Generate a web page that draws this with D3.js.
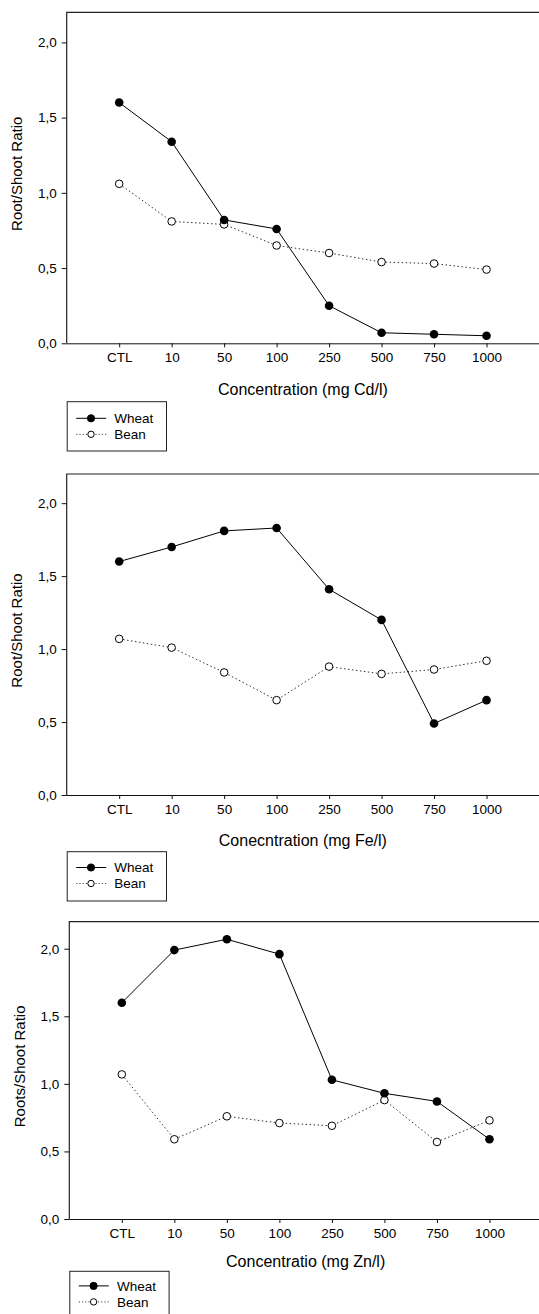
<!DOCTYPE html>
<html>
<head>
<meta charset="utf-8">
<script src="https://cdn.jsdelivr.net/npm/d3@7"></script>
<style>
  body { margin: 0; background: #fff; }
  svg text { font-family: 'Liberation Sans', Arial, sans-serif; fill: #000; }
</style>
</head>
<body>
<div class="canvas"></div>
<script>
const categories = ['CTL', '10', '50', '100', '250', '500', '750', '1000']
const yTicks = [0, 0.5, 1.0, 1.5, 2.0]

const wheatCd = [1.60, 1.34, 0.82, 0.76, 0.25, 0.07, 0.06, 0.05]
const beanCd = [1.06, 0.81, 0.79, 0.65, 0.60, 0.54, 0.53, 0.49]

const wheatFe = [1.60, 1.70, 1.81, 1.83, 1.41, 1.20, 0.49, 0.65]
const beanFe = [1.07, 1.01, 0.84, 0.65, 0.88, 0.83, 0.86, 0.92]

const wheatZn = [1.60, 1.99, 2.07, 1.96, 1.03, 0.93, 0.87, 0.59]
const beanZn = [1.07, 0.59, 0.76, 0.71, 0.69, 0.88, 0.57, 0.73]

const seriesNames = ['Wheat', 'Bean']

const panels = [
    { wheat: wheatCd, bean: beanCd, yTitle: 'Root/Shoot Ratio', xTitle: 'Concentration (mg Cd/l)',
      left: 66.7, right: 539, top: 12.3, bottom: 343.3, titleGap: 52, legendGap: 58.4, legendRow: 16.6 },
    { wheat: wheatFe, bean: beanFe, yTitle: 'Root/Shoot Ratio', xTitle: 'Conecntration (mg Fe/l)',
      left: 66.7, right: 539, top: 474, bottom: 795, titleGap: 51, legendGap: 56.7, legendRow: 15.8 },
    { wheat: wheatZn, bean: beanZn, yTitle: 'Roots/Shoot Ratio', xTitle: 'Concentratio (mg Zn/l)',
      left: 69.3, right: 542, top: 921.7, bottom: 1219, titleGap: 47.5, legendGap: 52.3, legendRow: 14.6 }
]

const svg = d3.select('.canvas').append('svg').attr('width', 539).attr('height', 1314)

const fmt = d => d3.format('.1f')(d).replace('.', ',')

panels.forEach(p => {
    const x = d3.scalePoint()
        .domain(categories)
        .range([p.left, p.right])
        .padding(1)

    const y = d3.scaleLinear()
        .domain([0, 2.2])
        .range([p.bottom, p.top])

    const g = svg.append('g')

    // frame (right side runs off the picture)
    g.append('path')
        .attr('d', `M${p.left},${p.bottom}V${p.top}H${p.right + 5}`)
        .attr('fill', 'none')
        .attr('stroke', '#222')
        .attr('stroke-width', 1.2)

    const xAxis = d3.axisBottom(x).tickSizeInner(4).tickSizeOuter(0).tickPadding(5)
    const yAxis = d3.axisLeft(y).tickValues(yTicks).tickFormat(fmt).tickSizeInner(5).tickSizeOuter(0).tickPadding(5)

    const xAxisGroup = g.append('g').attr('transform', `translate(0, ${p.bottom})`).call(xAxis)
    const yAxisGroup = g.append('g').attr('transform', `translate(${p.left}, 0)`).call(yAxis)

    xAxisGroup.select('.domain').attr('d', `M${p.left},0.5H${p.right + 5}`).attr('stroke', '#111')
    yAxisGroup.select('.domain').remove()
    xAxisGroup.selectAll('text').attr('font-size', 13.5).attr('font-family', null)
    yAxisGroup.selectAll('text').attr('font-size', 13.5).attr('font-family', null)
    g.selectAll('.tick line').attr('stroke', '#111')

    // axis titles
    g.append('text')
        .attr('x', (p.left + p.right) / 2)
        .attr('y', p.bottom + p.titleGap)
        .attr('text-anchor', 'middle')
        .attr('font-size', 16)
        .text(p.xTitle)

    g.append('text')
        .attr('transform', `translate(${p.left - 50}, ${(p.top + p.bottom) / 2 - 4}) rotate(-90)`)
        .attr('text-anchor', 'middle')
        .attr('dominant-baseline', 'central')
        .attr('font-size', 15)
        .text(p.yTitle)

    const line = d3.line()
        .x((d, i) => x(categories[i]))
        .y(d => y(d))

    g.append('path')
        .datum(p.bean)
        .attr('d', line)
        .attr('fill', 'none')
        .attr('stroke', '#333')
        .attr('stroke-width', 1)
        .attr('stroke-dasharray', '1.5,2.5')

    g.append('path')
        .datum(p.wheat)
        .attr('d', line)
        .attr('fill', 'none')
        .attr('stroke', '#000')
        .attr('stroke-width', 1)

    g.selectAll('.bean').data(p.bean).enter().append('circle')
        .attr('class', 'bean')
        .attr('cx', (d, i) => x(categories[i]))
        .attr('cy', d => y(d))
        .attr('r', 3.8)
        .attr('fill', '#fff')
        .attr('stroke', '#000')
        .attr('stroke-width', 1)

    g.selectAll('.wheat').data(p.wheat).enter().append('circle')
        .attr('class', 'wheat')
        .attr('cx', (d, i) => x(categories[i]))
        .attr('cy', d => y(d))
        .attr('r', 4.3)
        .attr('fill', '#000')

    // legend
    const lg = g.append('g').attr('transform', `translate(${p.left}, ${p.bottom + p.legendGap})`)
    lg.append('rect')
        .attr('x', 0.5).attr('y', 0)
        .attr('width', 99.3).attr('height', 49.3)
        .attr('fill', '#fff')
        .attr('stroke', '#222')
        .attr('stroke-width', 1)

    seriesNames.forEach((name, i) => {
        const ly = p.legendRow + i * 16
        lg.append('line')
            .attr('x1', 9.5).attr('x2', 39.5)
            .attr('y1', ly).attr('y2', ly)
            .attr('stroke', i === 0 ? '#000' : '#444')
            .attr('stroke-dasharray', i === 0 ? null : '1.2,2')
        lg.append('circle')
            .attr('cx', 24.3).attr('cy', ly)
            .attr('r', i === 0 ? 3.6 : 3.2)
            .attr('fill', i === 0 ? '#000' : '#fff')
            .attr('stroke', '#000')
        lg.append('text')
            .attr('x', 47.6).attr('y', ly + 4.8)
            .attr('font-size', 13.5)
            .text(name)
    })
})
</script>
</body>
</html>
